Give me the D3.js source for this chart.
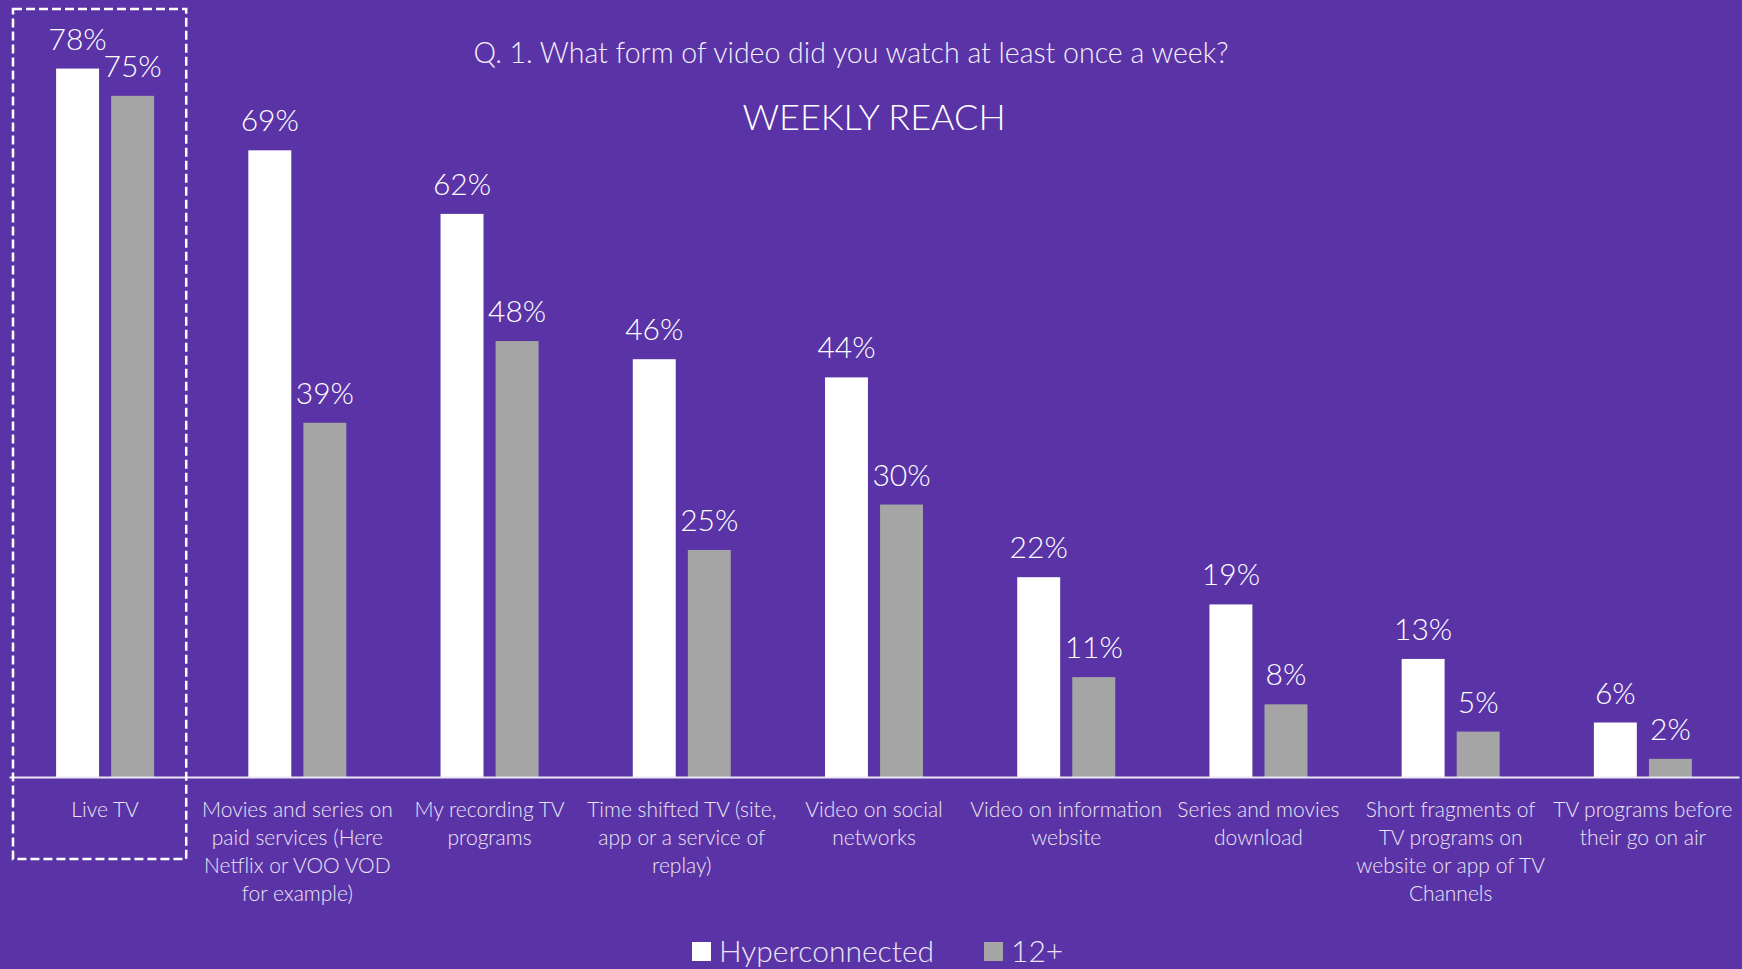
<!DOCTYPE html>
<html>
<head>
<meta charset="utf-8">
<script src="https://cdn.jsdelivr.net/npm/d3@7"></script>
<style>
  html, body { margin: 0; padding: 0; background: #5a34a6; }
  svg { display: block; font-family: 'Segoe UI Light', 'Lato', sans-serif; font-weight: 300; }
</style>
</head>
<body>
<svg id="chart" width="1742" height="969"></svg>
<script>
var categories = [
  'Live TV',
  'Movies and series on\npaid services (Here\nNetflix or VOO VOD\nfor example)',
  'My recording TV\nprograms',
  'Time shifted TV (site,\napp or a service of\nreplay)',
  'Video on social\nnetworks',
  'Video on information\nwebsite',
  'Series and movies\ndownload',
  'Short fragments of\nTV programs on\nwebsite or app of TV\nChannels',
  'TV programs before\ntheir go on air'
]
var seriesNames = ['Hyperconnected', '12+']
var hyperconnected = [78, 69, 62, 46, 44, 22, 19, 13, 6]
var twelvePlus = [75, 39, 48, 25, 30, 11, 8, 5, 2]
var colors = ['#ffffff', '#a5a5a5']
var title = 'Q. 1. What form of video did you watch at least once a week?'
var subtitle = 'WEEKLY REACH'

function drawBarChart () {
  var svg = d3.select('#chart')
  var width = +svg.attr('width')
  var margin = { left: 9, right: 3, baseline: 777 }

  var data = categories.map(function (c, i) {
    return { cat: c, values: [hyperconnected[i], twelvePlus[i]] }
  })

  var x0 = d3.scaleBand()
    .domain(categories)
    .range([margin.left, width - margin.right])

  var x1 = d3.scaleBand()
    .domain(seriesNames)
    .range([-49, 49])
    .paddingInner(0.22)

  var y = d3.scaleLinear()
    .domain([0, 85])
    .range([margin.baseline, 5])

  svg.append('rect')
    .attr('width', width)
    .attr('height', 969)
    .attr('fill', '#5a34a6')

  // titles
  svg.append('text')
    .attr('x', 851)
    .attr('y', 63)
    .attr('text-anchor', 'middle')
    .attr('fill', '#f4f0fa')
    .style('font-size', '28.5px')
    .text(title)

  svg.append('text')
    .attr('x', 874)
    .attr('y', 130)
    .attr('text-anchor', 'middle')
    .attr('fill', '#ffffff')
    .style('font-size', '36px')
    .text(subtitle)

  var groups = svg.selectAll('g.group')
    .data(data).enter().append('g')
    .attr('class', 'group')
    .attr('transform', function (d) {
      return 'translate(' + (x0(d.cat) + x0.bandwidth() / 2) + ',0)'
    })

  var bars = groups.selectAll('g.bar')
    .data(function (d) {
      return d.values.map(function (v, i) { return { key: seriesNames[i], value: v, i: i } })
    }).enter().append('g')
    .attr('class', 'bar')

  bars.append('rect')
    .attr('x', function (d) { return x1(d.key) })
    .attr('y', function (d) { return y(d.value) })
    .attr('width', x1.bandwidth())
    .attr('height', function (d) { return y(0) - y(d.value) })
    .attr('fill', function (d) { return colors[d.i] })

  bars.append('text')
    .attr('x', function (d) { return x1(d.key) + x1.bandwidth() / 2 })
    .attr('y', function (d) { return y(d.value) - 19 })
    .attr('text-anchor', 'middle')
    .attr('fill', '#ffffff')
    .style('font-size', '30px')
    .text(function (d) { return d.value + '%' })

  // baseline axis
  var gXaxis = svg.append('g')
    .attr('class', 'x axis')
    .attr('transform', 'translate(0,' + margin.baseline + ')')
    .call(d3.axisBottom(x0).tickSize(0).tickFormat(''))

  gXaxis.select('.domain')
    .attr('stroke', '#ece6f6')
    .attr('stroke-width', 2)

  gXaxis.selectAll('.tick text').remove()

  gXaxis.selectAll('.tick')
    .append('text')
    .attr('fill', '#ebe5f5')
    .attr('text-anchor', 'middle')
    .style('font-size', '21px')
    .style('font-family', "'Segoe UI Light', 'Lato', sans-serif")
    .style('font-weight', 300)
    .each(function (d) {
      var lines = d.split('\n')
      d3.select(this).selectAll('tspan')
        .data(lines).enter().append('tspan')
        .attr('x', 0)
        .attr('y', function (l, i) { return 40 + i * 28 })
        .text(function (l) { return l })
    })

  // dashed highlight around the first category
  svg.append('rect')
    .attr('x', x0(categories[0]) + 4)
    .attr('y', 9)
    .attr('width', x0.bandwidth() - 19)
    .attr('height', 850)
    .attr('fill', 'none')
    .attr('stroke', '#ffffff')
    .attr('stroke-width', 2.5)
    .attr('stroke-dasharray', '9,4')

  // legend
  var legendX = [692, 984]
  var gLegend = svg.append('g')
    .attr('class', 'legend')

  var items = gLegend.selectAll('g')
    .data(seriesNames).enter().append('g')
    .attr('transform', function (d, i) { return 'translate(' + legendX[i] + ',942)' })

  items.append('rect')
    .attr('width', 19)
    .attr('height', 19)
    .attr('fill', function (d, i) { return colors[i] })

  items.append('text')
    .attr('x', 27)
    .attr('y', 20)
    .attr('fill', '#ebe5f5')
    .style('font-size', '30px')
    .text(function (d) { return d })
}

drawBarChart()
</script>
</body>
</html>
